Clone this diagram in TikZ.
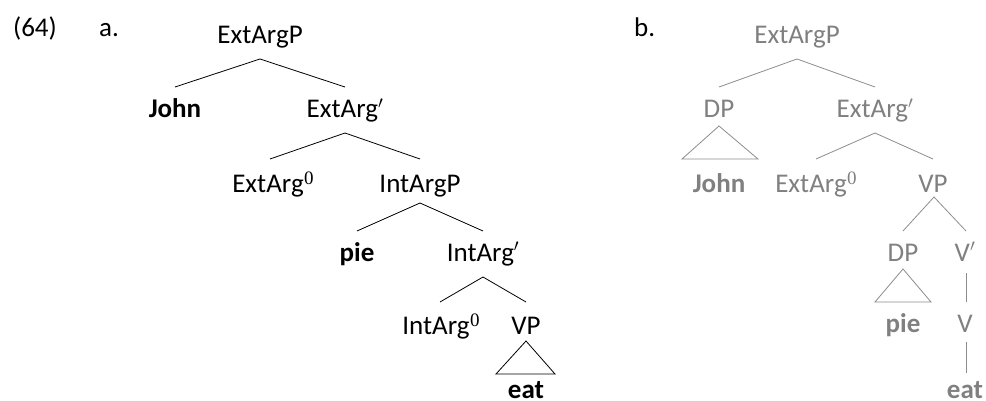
\documentclass[tikz,border=0pt]{standalone}
\usepackage[no-math]{fontspec}
\setmainfont{Carlito}
\newfontfamily\supfont{Liberation Serif}
\usetikzlibrary{calc}
\definecolor{txtgrey}{HTML}{808080}
\definecolor{lngrey}{HTML}{8C8C8C}
\newcommand{\supzero}{\kern0.5pt\raisebox{8pt}{\supfont\fontsize{19}{19}\selectfont 0}}
\newcommand{\barprime}{$'$}
\begin{document}
\begin{tikzpicture}[x=1pt,y=-1pt,
  tn/.style={anchor=base, inner sep=0pt, font=\fontsize{27}{32}\selectfont},
  gn/.style={tn, text=txtgrey},
  br/.style={line width=0.8pt, black},
  gbr/.style={line width=0.8pt, lngrey}]
\useasboundingbox (0,0) rectangle (986,401);
% labels
\node[tn] (num) at (35,37) {(64)};
\node[tn, anchor=base west] (la) at (99,37) {a.};
\node[tn, anchor=base west] (lb) at (634,37) {b.};
% tree a
\node[tn] (aA) at (260,44) {ExtArgP};
\node[tn] (aJohn) at (175,118) {\textbf{John}};
\node[tn] (aBar) at (345,118) {ExtArg\barprime};
\node[tn] (a0) at (273,193) {ExtArg\supzero};
\node[tn] (aIP) at (420,193) {IntArgP};
\node[tn] (aPie) at (357,261) {\textbf{pie}};
\node[tn] (aIBar) at (483,261) {IntArg\barprime};
\node[tn] (aI0) at (441,334) {IntArg\supzero};
\node[tn] (aVP) at (526,334) {VP};
\node[tn] (aEat) at (526,398) {\textbf{eat}};
\draw[br] ($(aJohn.base)+(0,-31)$) -- ($(aA.base)+(0,15)$) -- ($(aBar.base)+(0,-31)$);
\draw[br] ($(a0.base)+(-3,-34)$) -- ($(aBar.base)+(0,15)$) -- ($(aIP.base)+(0,-34)$);
\draw[br] ($(aPie.base)+(0,-30)$) -- ($(aIP.base)+(0,10)$) -- ($(aIBar.base)+(0,-30)$);
\draw[br] ($(aI0.base)+(-1,-32)$) -- ($(aIBar.base)+(0,16)$) -- ($(aVP.base)+(0,-32)$);
\draw[br] ($(aVP.base)+(0,7)$) -- ($(aEat.base)+(-30,-24)$) -- ($(aEat.base)+(29,-24)$) -- cycle;
% tree b
\node[gn] (bA) at (797,44) {ExtArgP};
\node[gn] (bDP) at (719,118) {DP};
\node[gn] (bBar) at (875,118) {ExtArg\barprime};
\node[gn] (bJohn) at (719,193) {\textbf{John}};
\node[gn] (b0) at (816,193) {ExtArg\supzero};
\node[gn] (bVP) at (933,193) {VP};
\node[gn] (bDP2) at (903,261) {DP};
\node[gn] (bVBar) at (965,261) {V\barprime};
\node[gn] (bPie) at (903,332) {\textbf{pie}};
\node[gn] (bV) at (965,332) {V};
\node[gn] (bEat) at (965,398) {\textbf{eat}};
\draw[gbr] ($(bDP.base)+(0,-31)$) -- ($(bA.base)+(0,15)$) -- ($(bBar.base)+(0,-31)$);
\draw[gbr] ($(bDP.base)+(0,8)$) -- ($(bJohn.base)+(-37,-34)$) -- ($(bJohn.base)+(39,-34)$) -- cycle;
\draw[gbr] ($(b0.base)+(0,-34)$) -- ($(bBar.base)+(0,15)$) -- ($(bVP.base)+(0,-34)$);
\draw[gbr] ($(bDP2.base)+(0,-30)$) -- ($(bVP.base)+(1,4)$) -- ($(bVBar.base)+(1,-30)$);
\draw[gbr] ($(bDP2.base)+(0,8)$) -- ($(bPie.base)+(-28,-30)$) -- ($(bPie.base)+(28,-30)$) -- cycle;
\draw[gbr] ($(bVBar.base)+(1,12)$) -- ($(bV.base)+(1,-30)$);
\draw[gbr] ($(bV.base)+(1,10)$) -- ($(bEat.base)+(1,-25)$);
\end{tikzpicture}
\end{document}
